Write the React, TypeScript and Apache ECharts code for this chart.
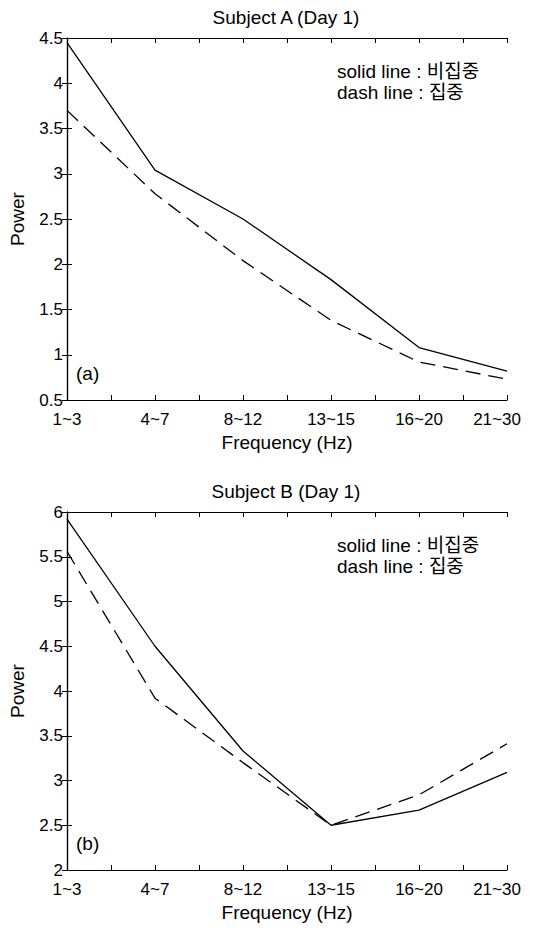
import React, { useEffect, useRef } from "react";
import * as echarts from "echarts";

const categories = ["1~3", "4~7", "8~12", "13~15", "16~20", "21~30"];
const solidA = [4.45, 3.04, 2.5, 1.83, 1.08, 0.82];
const dashA = [3.7, 2.78, 2.04, 1.38, 0.92, 0.73];
const solidB = [5.92, 4.5, 3.33, 2.5, 2.67, 3.09];
const dashB = [5.56, 3.92, 3.2, 2.5, 2.84, 3.41];
const yTicksA = { min: 0.5, max: 4.5, step: 0.5 };
const yTicksB = { min: 2, max: 6, step: 0.5 };
const titles = ["Subject A (Day 1)", "Subject B (Day 1)"];
const panelTags = ["(a)", "(b)"];
const legendLines = ["solid line : 비집중", "dash line : 집중"];
const xName = "Frequency (Hz)";
const yName = "Power";

const FONT = "'Liberation Sans', Arial, 'Noto Sans CJK KR', sans-serif";

export default function App() {
  const ref = useRef<HTMLDivElement>(null);
  useEffect(() => {
    if (!ref.current) return;
    const chart = echarts.init(ref.current, null, { renderer: "svg" });
    const grids = [
      { left: 65, top: 38, width: 442, height: 362 },
      { left: 65, top: 512, width: 442, height: 358 },
    ];
    const ys = [yTicksA, yTicksB];
    const axisLine = { show: true, lineStyle: { color: "#000", width: 1.2 } };
    const axisTick = { show: true, inside: true, length: 5, lineStyle: { color: "#000", width: 1 } };
    const xAxis: any[] = [];
    const yAxis: any[] = [];
    grids.forEach((g, i) => {
      xAxis.push({
        type: "value",
        gridIndex: i,
        min: 0,
        max: categories.length - 1,
        interval: 0.5,
        position: "bottom",
        axisLine,
        axisTick,
        splitLine: { show: false },
        name: xName,
        nameLocation: "middle",
        nameGap: 33,
        nameTextStyle: { color: "#000", fontSize: 19, fontFamily: FONT },
        axisLabel: {
          color: "#000",
          fontSize: 17,
          fontFamily: FONT,
          margin: 11,
          showMinLabel: true,
          showMaxLabel: true,
          formatter: (v: number) => {
            if (Math.abs(v - Math.round(v)) > 1e-6) return "";
            const idx = Math.round(v);
            if (idx === categories.length - 1) return "{last|" + categories[idx] + "}";
            return categories[idx];
          },
          rich: {
            last: { fontSize: 17, fontFamily: FONT, color: "#000", padding: [0, 20, 0, 0] },
          },
        },
      });
      xAxis.push({
        type: "value",
        gridIndex: i,
        min: 0,
        max: categories.length - 1,
        interval: 0.5,
        position: "top",
        axisLine,
        axisTick,
        axisLabel: { show: false },
        splitLine: { show: false },
      });
      yAxis.push({
        type: "value",
        gridIndex: i,
        min: ys[i].min,
        max: ys[i].max,
        interval: ys[i].step,
        position: "left",
        axisLine,
        axisTick,
        splitLine: { show: false },
        name: yName,
        nameLocation: "middle",
        nameGap: 40,
        nameTextStyle: { color: "#000", fontSize: 19, fontFamily: FONT },
        axisLabel: { color: "#000", fontSize: 17, fontFamily: FONT, margin: 4 },
      });
      yAxis.push({
        type: "value",
        gridIndex: i,
        min: ys[i].min,
        max: ys[i].max,
        interval: ys[i].step,
        position: "right",
        axisLine,
        axisTick,
        axisLabel: { show: false },
        splitLine: { show: false },
      });
    });
    const mk = (vals: number[], dashed: boolean, gi: number) => ({
      type: "line",
      xAxisIndex: gi * 2,
      yAxisIndex: gi * 2,
      data: vals.map((v, k) => [k, v]),
      symbol: "none",
      lineStyle: { color: "#000", width: 1.3, type: dashed ? [15, 8] : "solid" },
      silent: true,
    });
    const graphic: any[] = [];
    grids.forEach((g, i) => {
      graphic.push({
        type: "text",
        x: g.left + g.width / 2,
        y: g.top - 21,
        style: { text: titles[i], fill: "#000", fontSize: 19, fontFamily: FONT, align: "center", verticalAlign: "middle" },
      });
      graphic.push({
        type: "text",
        x: 337,
        y: g.top + 33,
        style: { text: legendLines[0], fill: "#000", fontSize: 19, fontFamily: FONT, align: "left", verticalAlign: "middle" },
      });
      graphic.push({
        type: "text",
        x: 337,
        y: g.top + 54,
        style: { text: legendLines[1], fill: "#000", fontSize: 19, fontFamily: FONT, align: "left", verticalAlign: "middle" },
      });
      graphic.push({
        type: "text",
        x: 76,
        y: g.top + g.height - 27,
        style: { text: panelTags[i], fill: "#000", fontSize: 19, fontFamily: FONT, align: "left", verticalAlign: "middle" },
      });
    });
    chart.setOption({
      animation: false,
      backgroundColor: "#fff",
      grid: grids,
      xAxis,
      yAxis,
      series: [mk(solidA, false, 0), mk(dashA, true, 0), mk(solidB, false, 1), mk(dashB, true, 1)],
      graphic,
    });
    return () => chart.dispose();
  }, []);
  return (
    <div
      ref={ref}
      style={{ position: "fixed", left: 0, top: 0, width: 536, height: 928, background: "#fff" }}
    />
  );
}
